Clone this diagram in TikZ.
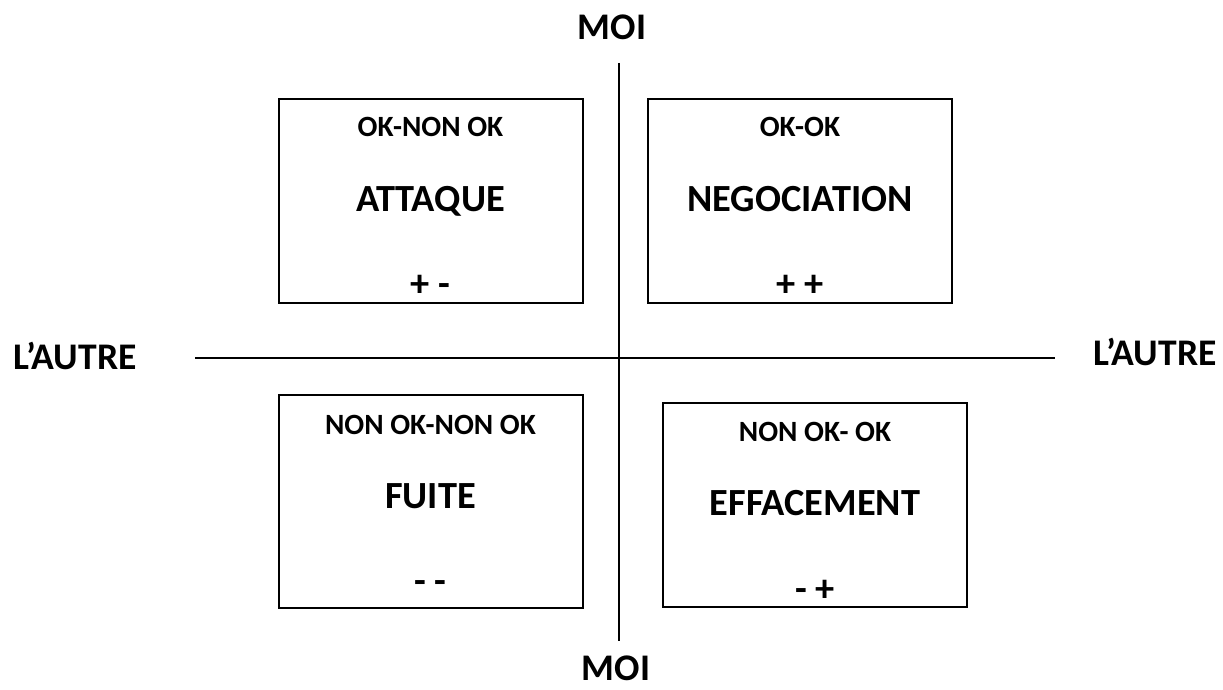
\documentclass[tikz,border=0pt]{standalone}
\usepackage{fontspec}
\setmainfont{Carlito}
\begin{document}
\begin{tikzpicture}[
 x=.5pt,y=-.5pt,
 axis/.style={line width=.7pt},
 quad/.style={draw,line width=1pt,inner sep=0pt,minimum width=152pt,minimum height=102pt},
 pole/.style={anchor=base,inner sep=0pt,font=\bfseries\fontsize{18.8}{21}\selectfont},
 stance/.style={anchor=base,inner sep=0pt,font=\bfseries\fontsize{14.7}{17}\selectfont},
 posture/.style={anchor=base,inner sep=0pt,font=\bfseries\fontsize{19.2}{21}\selectfont}]
 \path[use as bounding box,fill=white] (0,0) rectangle (1223,690);
 % Axes.
 \coordinate (axN) at (619,63); \coordinate (axS) at (619,641);
 \coordinate (axW) at (195,358); \coordinate (axE) at (1055,358);
 \draw[axis] (axN)--(axS);
 \draw[axis] (axW)--(axE);
 \node[pole] (moiN) at (612,40){MOI};
 \node[pole] (moiS) at (616,680){MOI};
 \node[pole] (autW) at (75,370){L’AUTRE};
 \node[pole] (autE) at (1155,365){L’AUTRE};
 % Upper left: attack.
 \node[quad] (att) at (430.5,201){};
 \node[stance] (attH) at (430.5,137){OK-NON OK};
 \node[posture] (attT) at (430.5,212){ATTAQUE};
 \node[posture] (attS) at (430.5,297){+ -};
 % Upper right: negotiation.
 \node[quad] (neg) at (800,201){};
 \node[stance] (negH) at (800,137){OK-OK};
 \node[posture] (negT) at (800,212){NEGOCIATION};
 \node[posture] (negS) at (800,297){+ +};
 % Lower left: flight.
 \node[quad,minimum height=106.5pt] (fui) at (430.5,501.5){};
 \node[stance] (fuiH) at (430.5,434){NON OK-NON OK};
 \node[posture] (fuiT) at (430.5,509){FUITE};
 \node[posture] (fuiS) at (430.5,593){- -};
 % Lower right: withdrawal.
 \node[quad] (eff) at (815,505){};
 \node[stance] (effH) at (815,441){NON OK- OK};
 \node[posture] (effT) at (815,516){EFFACEMENT};
 \node[posture] (effS) at (815,601){- +};
\end{tikzpicture}
\end{document}
